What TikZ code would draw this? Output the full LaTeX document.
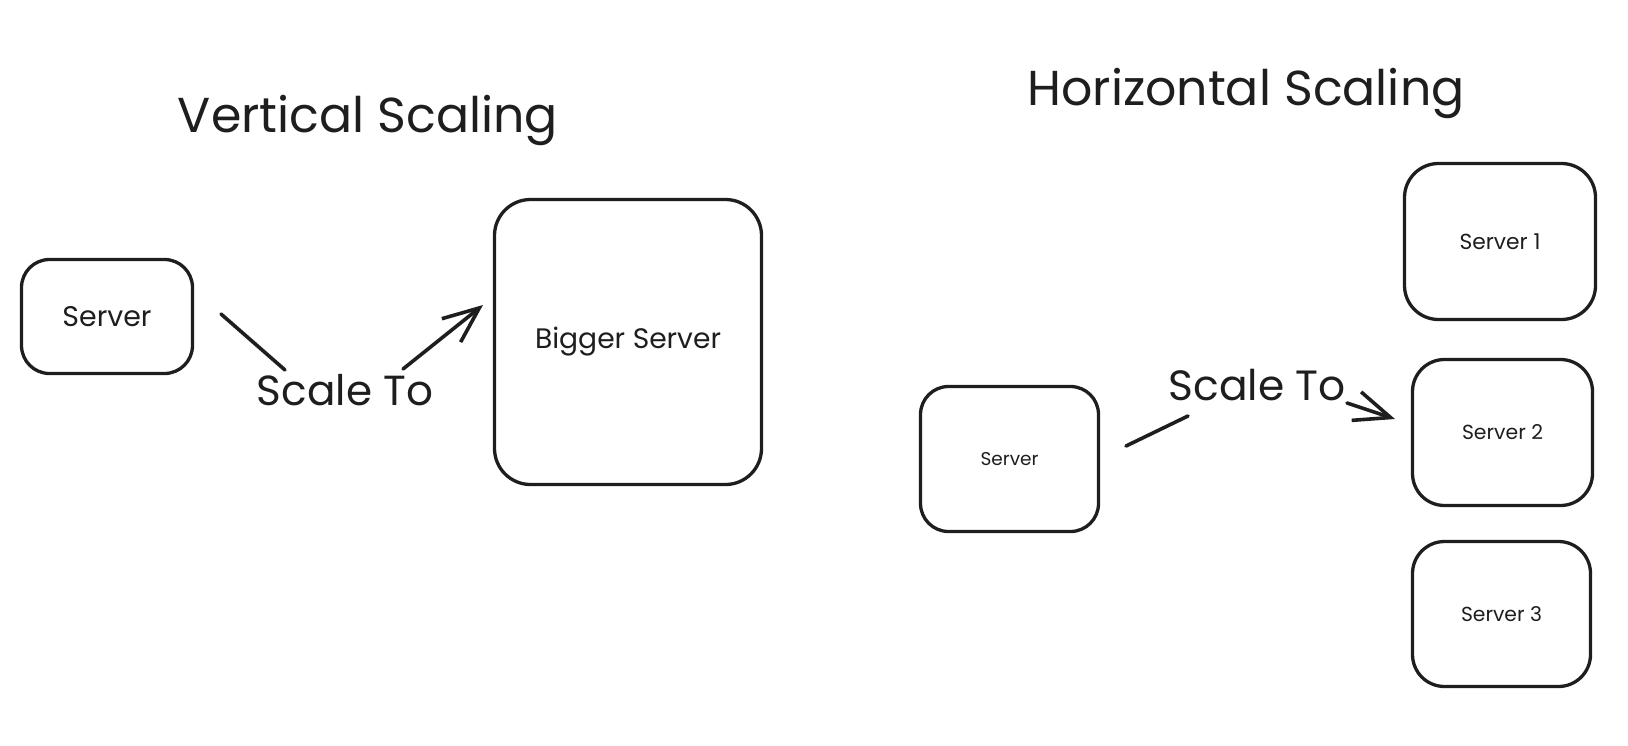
\documentclass[tikz,border=0pt]{standalone}
\usepackage{fontspec}
\setmainfont{Poppins}
\usetikzlibrary{arrows.meta}
\newcommand\fitw[2]{\resizebox{#1}{!}{#2}}
\definecolor{ink}{HTML}{1E1E1E}
\begin{document}
\begin{tikzpicture}[x=1pt,y=-1pt,
  box/.style={draw=ink, line width=3.3pt, rounded corners=28pt, inner sep=0pt, text=ink, align=center},
  lbl/.style={inner sep=0pt, text=ink},
  conn/.style={draw=ink, line width=3.6pt, line cap=round},
  tipped/.style={-{Straight Barb[length=36pt,width=30pt,line width=3.6pt]}}]
\useasboundingbox (0,0) rectangle (1628,745);
% titles
\node[lbl,anchor=base] (t1) at (368,132) {\fitw{380pt}{Vertical Scaling}};
\node[lbl,anchor=base] (t2) at (1246,105) {\fitw{437pt}{Horizontal Scaling}};
% vertical scaling
\node[box, minimum width=171pt, minimum height=114pt] (s1) at (107,316.5) {\fitw{89pt}{Server}};
\node[box, rounded corners=36pt, minimum width=267pt, minimum height=285pt] (big) at (628,342) {\fitw{186pt}{Bigger Server}};
\node[lbl,anchor=base] (l1) at (345,405) {\fitw{176pt}{Scale To}};
\coordinate (a1) at (221,314);
\coordinate (a2) at (285,370);
\coordinate (a3) at (403,369);
\coordinate (a4) at (483,305);
\draw[conn] (a1) -- (a2);
\draw[conn,tipped] (a3) -- (a4);
% horizontal scaling
\node[box, minimum width=178pt, minimum height=145pt] (s2) at (1009.5,459) {\fitw{58pt}{Server}};
\node[box, rounded corners=34pt, minimum width=191pt, minimum height=156pt] (r1) at (1500,241.5) {\fitw{81pt}{Server 1}};
\node[box, rounded corners=32pt, minimum width=180pt, minimum height=146pt] (r2) at (1502.5,432.5) {\fitw{81pt}{Server 2}};
\node[box, rounded corners=32pt, minimum width=178pt, minimum height=145pt] (r3) at (1501.5,614) {\fitw{81pt}{Server 3}};
\node[lbl,anchor=base] (l2) at (1257,400) {\fitw{177pt}{Scale To}};
\coordinate (b1) at (1126,446);
\coordinate (b2) at (1188,416);
\coordinate (b3) at (1347,403);
\coordinate (b4) at (1395,419);
\draw[conn] (b1) -- (b2);
\draw[conn,tipped] (b3) -- (b4);
\end{tikzpicture}
\end{document}
